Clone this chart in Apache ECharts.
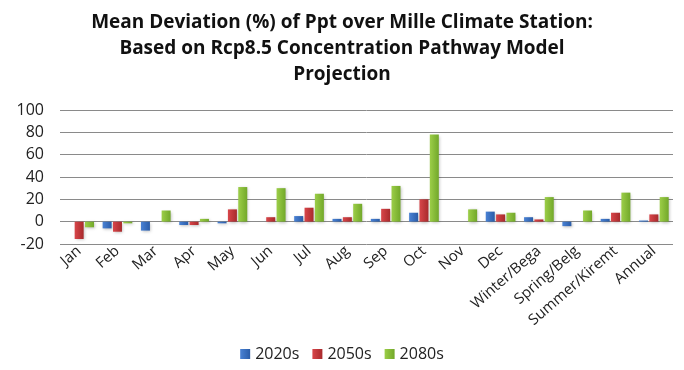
<!DOCTYPE html>
<html>
<head>
<meta charset="utf-8">
<script src="https://cdn.jsdelivr.net/npm/echarts@6/dist/echarts.min.js"></script>
<style>
  html, body { margin: 0; padding: 0; background: #fff; }
  #chart { width: 684px; height: 370px; }
</style>
</head>
<body>
<div id="chart"></div>
<script>
const categories = ['Jan', 'Feb', 'Mar', 'Apr', 'May', 'Jun', 'Jul', 'Aug', 'Sep', 'Oct', 'Nov', 'Dec',
  'Winter/Bega', 'Spring/Belg', 'Summer/Kiremt', 'Annual'];
const s2020 = [0, -6, -8, -3, -1.5, 0, 5, 2.5, 2.5, 8, 0, 9, 4, -4, 2.5, 1];
const s2050 = [-15.5, -9, 0, -3, 11, 4, 12.5, 4, 11.5, 20, 0, 6.5, 2, 0, 8, 6.5];
const s2080 = [-5, -1.5, 10, 2.5, 31, 30, 25, 16, 32, 78, 11, 8, 22, 10, 26, 22];
const yTicks = { min: -20, max: 100, interval: 20 };

const FONT = 'Open Sans';
const chart = echarts.init(document.getElementById('chart'));

const bar = (name, data, top, bottom) => ({
  name,
  type: 'bar',
  data,
  barWidth: 9,
  barGap: '15%',
  itemStyle: {
    color: new echarts.graphic.LinearGradient(0, 0, 1, 0, [
      { offset: 0, color: top },
      { offset: 1, color: bottom },
    ]),
    shadowColor: 'rgba(0,0,0,0.25)',
    shadowBlur: 3,
    shadowOffsetX: 1,
    shadowOffsetY: 1,
  },
});

chart.setOption({
  animation: false,
  title: {
    text: 'Mean Deviation (%) of Ppt over Mille Climate Station:\nBased on Rcp8.5 Concentration Pathway Model\nProjection',
    left: 'center',
    top: 5,
    textStyle: {
      fontFamily: FONT,
      fontSize: 19,
      fontWeight: 'bold',
      color: '#111',
      lineHeight: 26,
    },
  },
  legend: {
    bottom: 3,
    left: 'center',
    itemWidth: 10,
    itemHeight: 10,
    itemGap: 13,
    icon: 'rect',
    textStyle: { fontFamily: FONT, fontSize: 16, color: '#222' },
    data: ['2020s', '2050s', '2080s'],
  },
  grid: { left: 60, right: 11, top: 110, bottom: 126 },
  xAxis: {
    type: 'category',
    data: categories,
    axisTick: { show: false },
    axisLine: { show: false },
    axisLabel: {
      rotate: 41,
      interval: 0,
      fontFamily: FONT,
      fontSize: 15,
      color: '#222',
      margin: 5,
    },
  },
  yAxis: {
    type: 'value',
    min: yTicks.min,
    max: yTicks.max,
    interval: yTicks.interval,
    axisLine: { show: false },
    axisTick: { show: false },
    axisLabel: { fontFamily: FONT, fontSize: 16, color: '#222', margin: 16 },
    splitLine: { lineStyle: { color: '#8a8a8a', width: 1 } },
  },
  series: [
    bar('2020s', s2020, '#4a82d4', '#2a5ca8'),
    bar('2050s', s2050, '#d8464a', '#a82a2c'),
    bar('2080s', s2080, '#9cce48', '#72a82a'),
  ],
});
</script>
</body>
</html>
